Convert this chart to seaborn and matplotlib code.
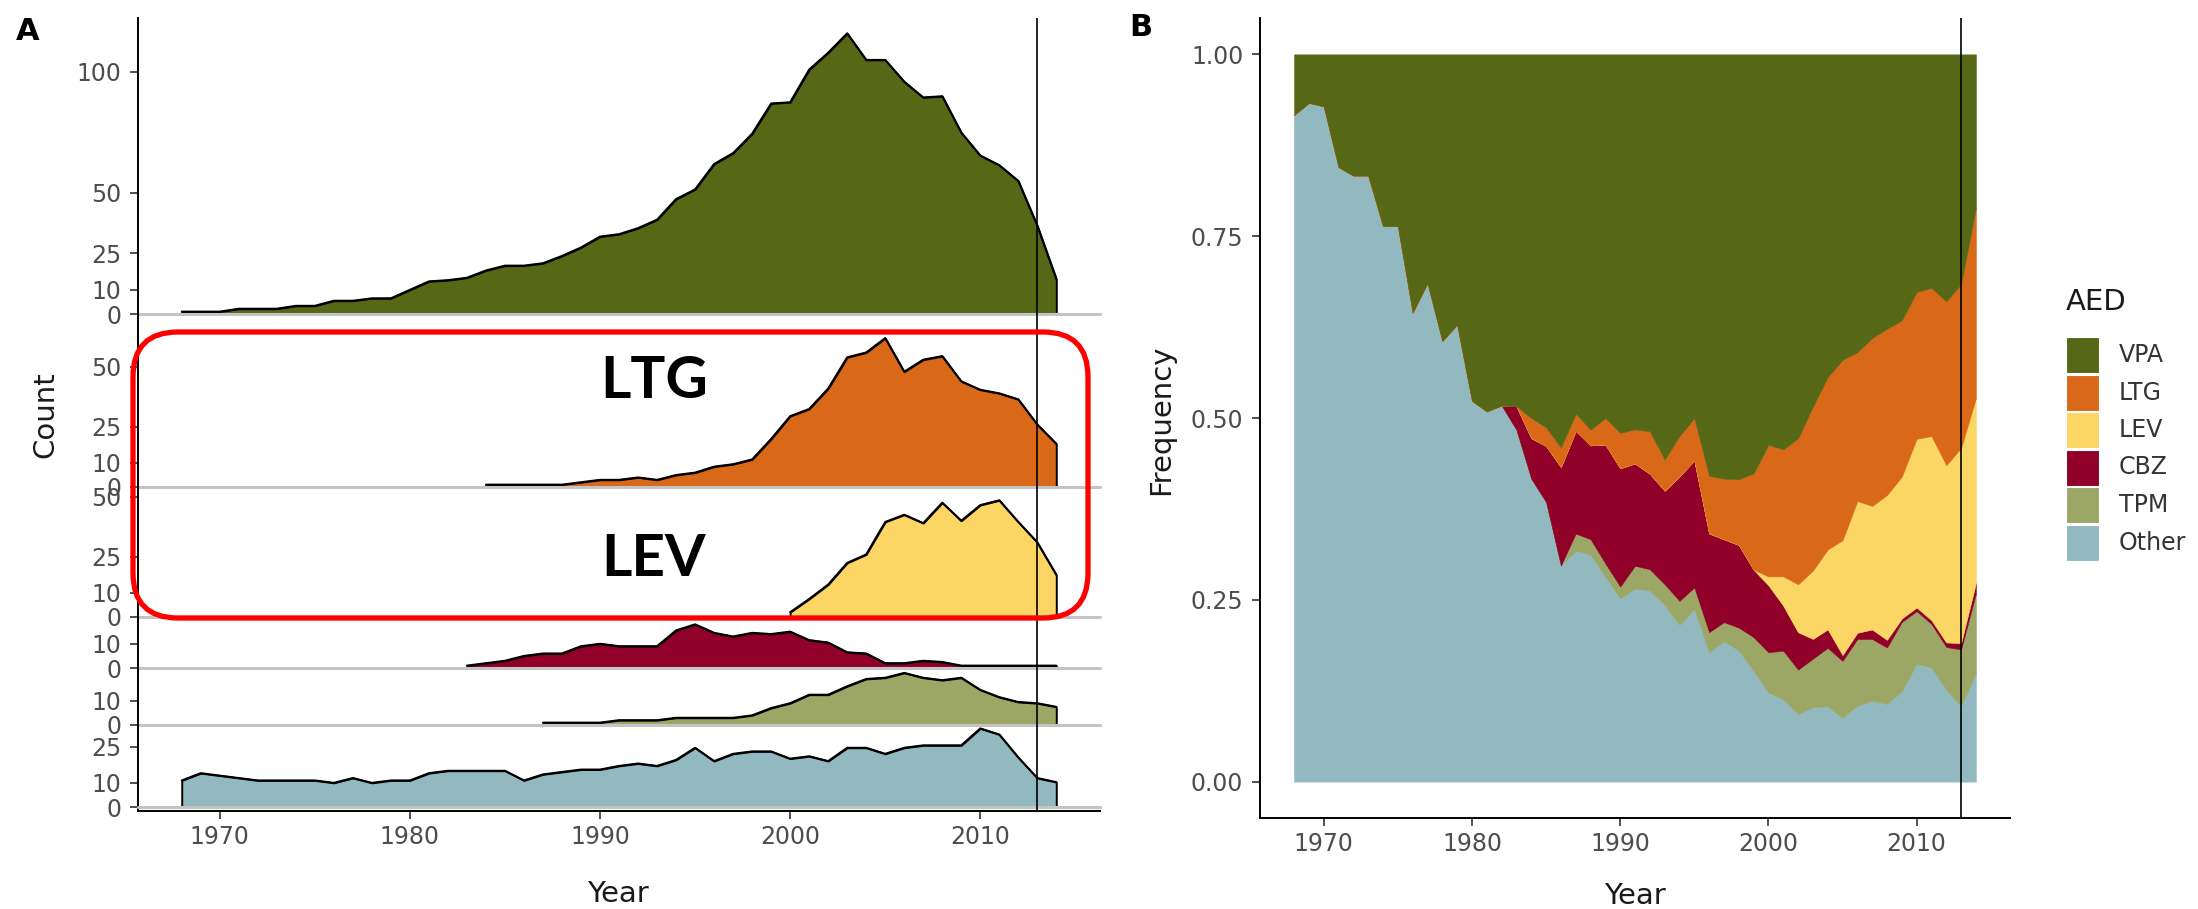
import numpy as np
import pandas as pd
import matplotlib
matplotlib.use("Agg")
import matplotlib.pyplot as plt
import seaborn as sns
from matplotlib.patches import FancyBboxPatch, Rectangle
from matplotlib.transforms import IdentityTransform

# ---------------- data (counts per year) ----------------
years = list(range(1968, 2015))

vpa_start = 1968
vpa = [1, 1, 1, 2.2, 2.2, 2.2, 3.4, 3.4, 5.5, 5.5, 6.5, 6.5, 10, 13.5, 14,
       15, 18, 20, 20, 21, 24, 27.5, 32, 33, 35.5, 39, 47.5, 51.5, 62, 66.5,
       74.5, 87, 87.5, 101, 108, 116, 105, 105, 96, 89.5, 90, 75, 65.5, 61.5,
       55, 36.5, 14.5]

ltg_start = 1984
ltg = [1, 1, 1, 1, 1, 2, 3, 3, 4, 3, 5, 6, 8.5, 9.5, 11.5, 20, 29.5, 32.5,
       41, 54, 56, 62, 48, 53, 54.5, 44, 40.5, 39, 36.5, 26, 18]

lev_start = 2000
lev = [2, 7.5, 13.5, 22.5, 26, 39.5, 42.5, 39, 47.5, 40, 46.5, 48.5, 39.5,
       31, 17.5]

cbz_start = 1983
cbz = [1, 2, 3, 5, 6, 6, 9, 10, 9, 9, 9, 15.5, 18, 14.5, 13, 14.5, 14, 15,
       11.5, 10.5, 6.5, 6, 2, 2, 3, 2.5, 1, 1, 1, 1, 1, 1]

tpm_start = 1987
tpm = [1, 1, 1, 1, 2, 2, 2, 3, 3, 3, 3, 4, 7, 9, 12.5, 12.5, 16, 19, 19.5,
       21.5, 19.5, 18.5, 19.5, 14.5, 11.5, 9.5, 9, 7.5]

other_start = 1968
other = [11, 14, 13, 12, 11, 11, 11, 11, 10, 12, 10, 11, 11, 14, 15, 15, 15,
         15, 11, 13.5, 14.5, 15.5, 15.5, 17, 18, 17, 19.5, 24.5, 19, 22, 23,
         23, 20, 21, 19, 24.5, 24.5, 22, 24.5, 25.5, 25.5, 25.5, 32.5, 30,
         20.5, 12, 10.3]

drugs = ["VPA", "LTG", "LEV", "CBZ", "TPM", "Other"]
colors = {"VPA": "#566816", "LTG": "#D96818", "LEV": "#FCD664",
          "CBZ": "#900028", "TPM": "#9CA766", "Other": "#92B8C0"}
series = {"VPA": (vpa_start, vpa), "LTG": (ltg_start, ltg),
          "LEV": (lev_start, lev), "CBZ": (cbz_start, cbz),
          "TPM": (tpm_start, tpm), "Other": (other_start, other)}
yticks = {"VPA": [0, 10, 25, 50, 100], "LTG": [0, 10, 25, 50],
          "LEV": [0, 10, 25, 50], "CBZ": [0, 10], "TPM": [0, 10],
          "Other": [0, 10, 25]}
ylims = {"VPA": (0, 122.3), "LTG": (0, 72), "LEV": (0, 54),
         "CBZ": (0, 21), "TPM": (0, 23.5), "Other": (-1.65, 33.9)}
vline_year = 2013

rows = []
for d in drugs:
    s, vals = series[d]
    for i, v in enumerate(vals):
        rows.append({"Year": s + i, "AED": d, "Count": v})
df = pd.DataFrame(rows)

# ---------------- figure ----------------
sns.set_theme(style="ticks")
plt.rcParams["font.family"] = ["DejaVu Sans"]
W, H = 2198, 909
fig = plt.figure(figsize=(W / 100, H / 100), dpi=100)

tick_col = "#4d4d4d"
title_col = "#1a1a1a"
xlim = (1965.7, 2016.3)

heights = [296, 173, 130, 51, 57, 86]
gs = fig.add_gridspec(6, 1, left=138 / W, right=1100 / W, top=1 - 18 / H,
                      bottom=1 - 811 / H, height_ratios=heights, hspace=0)

for i, d in enumerate(drugs):
    ax = fig.add_subplot(gs[i])
    ax.set_facecolor("none")
    sub = df[df.AED == d]
    ax.fill_between(sub.Year, sub.Count, 0, facecolor=colors[d],
                    edgecolor="black", linewidth=1.4, zorder=2)
    sns.lineplot(data=sub, x="Year", y="Count", color="black", lw=1.4,
                 ax=ax, zorder=3)
    ax.axhline(0, color="#c4c4c4", lw=2.2, zorder=4, clip_on=False)
    ax.axvline(vline_year, color="black", lw=1.2, zorder=5)
    ax.set_xlim(*xlim)
    ax.set_ylim(*ylims[d])
    ax.set_yticks(yticks[d])
    ax.set_ylabel("")
    ax.set_xlabel("")
    for sp in ["top", "right"]:
        ax.spines[sp].set_visible(False)
    ax.spines["left"].set_linewidth(1.4)
    ax.spines["left"].set_color("black")
    ax.tick_params(axis="y", labelsize=17, labelcolor=tick_col, length=6,
                   width=1.2, pad=6, color="#333333")
    if i < len(drugs) - 1:
        ax.spines["bottom"].set_visible(False)
        ax.tick_params(axis="x", bottom=False, labelbottom=False)
    else:
        ax.spines["bottom"].set_linewidth(1.4)
        ax.spines["bottom"].set_color("black")
        ax.set_xticks([1970, 1980, 1990, 2000, 2010])
        ax.tick_params(axis="x", labelsize=17, labelcolor=tick_col, length=6,
                       width=1.2, pad=4, color="#333333")

# ---------------- panel B: proportions ----------------
wide = df.pivot(index="Year", columns="AED", values="Count").reindex(years).fillna(0)
freq = wide.div(wide.sum(axis=1), axis=0)

axB = fig.add_axes([1260 / W, 1 - 818 / H, (2010 - 1260) / W, (818 - 18) / H])
stack_order = ["Other", "TPM", "CBZ", "LEV", "LTG", "VPA"]
lower = np.zeros(len(years))
for d in stack_order:
    upper = lower + freq[d].values
    axB.fill_between(years, lower, upper, facecolor=colors[d],
                     edgecolor=colors[d], linewidth=0.4, zorder=2)
    lower = upper
axB.axvline(vline_year, color="black", lw=1.2, zorder=5)
axB.set_xlim(*xlim)
axB.set_ylim(-0.05, 1.05)
axB.set_yticks([0, 0.25, 0.5, 0.75, 1.0])
axB.set_yticklabels(["0.00", "0.25", "0.50", "0.75", "1.00"])
axB.set_xticks([1970, 1980, 1990, 2000, 2010])
for sp in ["top", "right"]:
    axB.spines[sp].set_visible(False)
for sp in ["left", "bottom"]:
    axB.spines[sp].set_linewidth(1.4)
    axB.spines[sp].set_color("black")
axB.tick_params(axis="both", labelsize=17, labelcolor=tick_col, length=6,
                width=1.2, color="#333333")
axB.tick_params(axis="y", pad=6)
axB.tick_params(axis="x", pad=4)

# ---------------- legend (AED) ----------------
fig.text(2066 / W, 1 - 302 / H, "AED", ha="left", va="center", fontsize=21,
         color=title_col)
for i, d in enumerate(drugs):
    cy = 355 + 37.5 * i
    fig.add_artist(Rectangle((2066, H - cy - 18), 33, 36,
                             transform=IdentityTransform(),
                             facecolor=colors[d], edgecolor="white", lw=0.8))
    fig.text(2119 / W, 1 - cy / H, d, ha="left", va="center", fontsize=17,
             color="#333333")

# ---------------- titles / labels ----------------
fig.text(45 / W, 1 - 415 / H, "Count", rotation=90, ha="center", va="center",
         fontsize=21, color=title_col)
fig.text(1161 / W, 1 - 420 / H, "Frequency", rotation=90, ha="center",
         va="center", fontsize=21, color=title_col)
fig.text(618 / W, 1 - 902 / H, "Year", ha="center", va="baseline",
         fontsize=21, color=title_col)
fig.text(1635 / W, 1 - 904 / H, "Year", ha="center", va="baseline",
         fontsize=21, color=title_col)
fig.text(28 / W, 1 - 31 / H, "A", ha="center", va="center", fontsize=22,
         fontweight="bold", color="black")
fig.text(1141 / W, 1 - 28 / H, "B", ha="center", va="center", fontsize=22,
         fontweight="bold", color="black")

# highlight box with labels
box = FancyBboxPatch((133, H - 618), 955, 286,
                     boxstyle="round,pad=0,rounding_size=45",
                     transform=IdentityTransform(), fill=False,
                     edgecolor="#FF0000", linewidth=3.8, zorder=20)
fig.add_artist(box)
fig.text(654 / W, 1 - 382 / H, "LTG", ha="center", va="center",
         fontsize=42, fontweight="bold", color="black",
         family=["Lato", "DejaVu Sans"])
fig.text(654 / W, 1 - 560 / H, "LEV", ha="center", va="center",
         fontsize=42, fontweight="bold", color="black",
         family=["Lato", "DejaVu Sans"])

fig.savefig("out.png", dpi=100)
